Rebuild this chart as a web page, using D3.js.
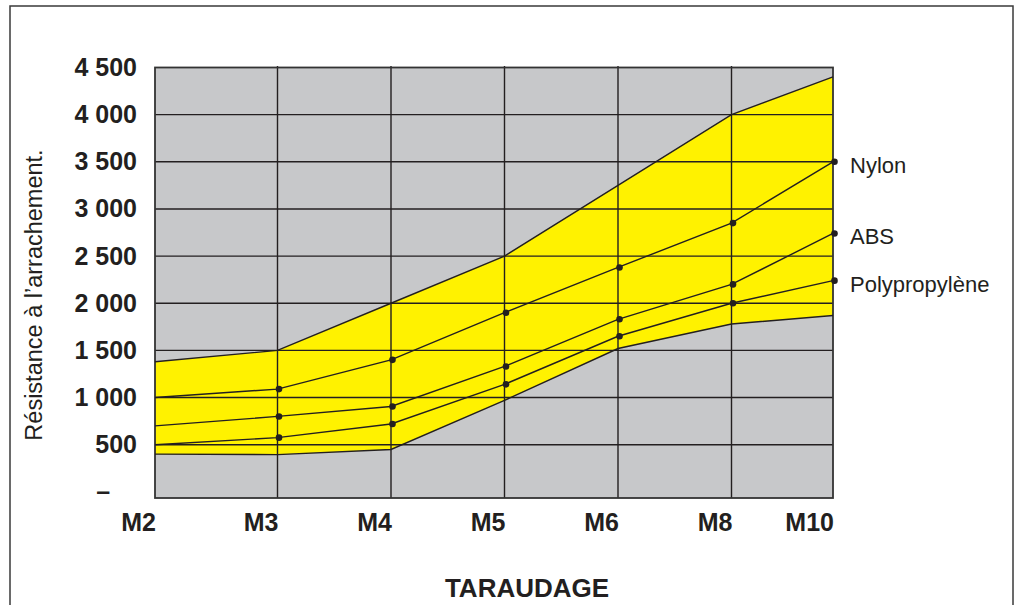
<!DOCTYPE html>
<html>
<head>
<meta charset="utf-8">
<script src="https://cdn.jsdelivr.net/npm/d3@7"></script>
<style>
  body { margin: 0; background: #fff; }
  svg text { font-family: "Liberation Sans", Arial, Helvetica, sans-serif; fill: #231f20; }
</style>
</head>
<body>
<svg id="chart" width="1018" height="605"></svg>
<script>
// Thread sizes (taraudage)
const sizes = ['M2', 'M3', 'M4', 'M5', 'M6', 'M8', 'M10'];

// Pull-out resistance per material
const nylon = [1000, 1090, 1400, 1900, 2380, 2850, 3500];
const abs = [700, 800, 905, 1330, 1830, 2200, 2740];
const polypropylene = [500, 575, 720, 1140, 1650, 2000, 2240];

// Yellow range band
const bandUpper = [1380, 1500, 2000, 2500, 3250, 4000, 4400];
const bandLower = [400, 395, 450, 970, 1520, 1780, 1870];

const seriesNames = ['Nylon', 'ABS', 'Polypropylène'];

const yTicks = [0, 500, 1000, 1500, 2000, 2500, 3000, 3500, 4000, 4500];
const yTickLabels = ['–', '500', '1 000', '1 500', '2 000', '2 500', '3 000', '3 500', '4 000', '4 500'];

const margin = { top: 67.5, left: 155 };
const width = 678;
const height = 430.5;
const ink = '#231f20';

const svg = d3.select('#chart');

// outer frame (bottom edge runs off the page)
svg.append('rect')
  .attr('x', 10).attr('y', 6)
  .attr('width', 1003).attr('height', 700)
  .attr('fill', 'none')
  .attr('stroke', '#3a3a3a')
  .attr('stroke-width', 1.5);

const g = svg.append('g')
  .attr('transform', `translate(${margin.left},${margin.top})`);

// inner sizes are evenly spaced; the first and last snap to the plot edges
const x = d3.scalePoint().domain(sizes).range([9, 690]);
const xPos = (s) => {
  const v = x(s);
  if (v <= x.range()[0]) return 0;
  if (v >= x.range()[1]) return width;
  return v;
};

const y = d3.scaleLinear().domain([-65, 4500]).range([height, 0]);

g.append('rect')
  .attr('width', width)
  .attr('height', height)
  .attr('fill', '#c7c8ca');

const rows = sizes.map((s, i) => ({ s, lo: bandLower[i], hi: bandUpper[i] }));

g.append('path')
  .datum(rows)
  .attr('fill', '#fff200')
  .attr('d', d3.area()
    .x((d) => xPos(d.s))
    .y0((d) => y(d.lo))
    .y1((d) => y(d.hi)));

// grid
g.append('g')
  .selectAll('line')
  .data(yTicks.filter((t) => t > 0 && t < 4500))
  .enter()
  .append('line')
  .attr('x1', 0).attr('x2', width)
  .attr('y1', (d) => y(d)).attr('y2', (d) => y(d))
  .attr('stroke', ink).attr('stroke-width', 1.4);

g.append('g')
  .selectAll('line')
  .data(sizes.slice(1, -1))
  .enter()
  .append('line')
  .attr('x1', (d) => xPos(d)).attr('x2', (d) => xPos(d))
  .attr('y1', -1.5).attr('y2', height)
  .attr('stroke', ink).attr('stroke-width', 1.4);

g.append('rect')
  .attr('width', width)
  .attr('height', height)
  .attr('fill', 'none')
  .attr('stroke', '#333')
  .attr('stroke-width', 1.8);

const line = d3.line()
  .x((d) => xPos(d.s))
  .y((d) => y(d.v));

[bandUpper, bandLower].forEach((vals) => {
  g.append('path')
    .datum(sizes.map((s, i) => ({ s, v: vals[i] })))
    .attr('fill', 'none')
    .attr('stroke', ink)
    .attr('stroke-width', 1.4)
    .attr('d', line);
});

[nylon, abs, polypropylene].forEach((vals, k) => {
  const pts = sizes.map((s, i) => ({ s, v: vals[i] }));
  g.append('path')
    .datum(pts)
    .attr('fill', 'none')
    .attr('stroke', ink)
    .attr('stroke-width', 1.4)
    .attr('d', line);

  g.selectAll(null)
    .data(pts.slice(1))
    .enter()
    .append('circle')
    .attr('cx', (d) => xPos(d.s) + 1.5)
    .attr('cy', (d) => y(d.v))
    .attr('r', 3.3)
    .attr('fill', ink);

  g.append('text')
    .attr('x', width + 17)
    .attr('y', y(vals[vals.length - 1]))
    .attr('dy', '0.5em')
    .attr('font-size', 22)
    .text(seriesNames[k]);
});

// y axis labels
const yAxis = d3.axisLeft(y)
  .tickValues(yTicks)
  .tickFormat((d, i) => yTickLabels[i])
  .tickSize(0)
  .tickPadding(18);

const ya = g.append('g').call(yAxis);
ya.select('.domain').remove();
ya.selectAll('text')
  .attr('font-size', 25)
  .attr('font-weight', 'bold')
  .attr('font-family', null)
  .attr('fill', ink);

// the dash for zero lines up with the start of "500"
const fiveHundred = ya.selectAll('text').filter((d) => d === 500).node();
const startX = -18 - fiveHundred.getComputedTextLength() + 1;
ya.selectAll('text').filter((d) => d === 0)
  .attr('text-anchor', 'start')
  .attr('x', startX);

// x axis labels, right-aligned to each grid line
g.append('g')
  .selectAll('text')
  .data(sizes)
  .enter()
  .append('text')
  .attr('x', (d) => xPos(d) + 1)
  .attr('y', height + 33)
  .attr('text-anchor', 'end')
  .attr('font-size', 25)
  .attr('font-weight', 'bold')
  .text((d) => d);

svg.append('text')
  .attr('transform', 'translate(42,295) rotate(-90)')
  .attr('text-anchor', 'middle')
  .attr('font-size', 23.5)
  .text('Résistance à l’arrachement.');

svg.append('text')
  .attr('x', 527)
  .attr('y', 597)
  .attr('text-anchor', 'middle')
  .attr('font-size', 26)
  .attr('font-weight', 'bold')
  .text('TARAUDAGE');
</script>
</body>
</html>
